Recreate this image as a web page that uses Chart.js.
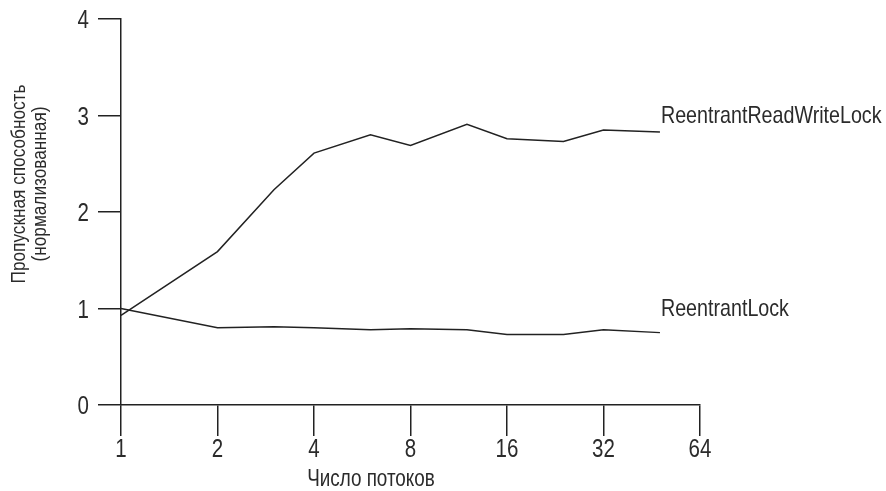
<!DOCTYPE html>
<html>
<head>
<meta charset="utf-8">
<script src="https://cdn.jsdelivr.net/npm/chart.js@4.4.1/dist/chart.umd.min.js"></script>
<style>
  html, body { margin: 0; padding: 0; background: #fff; }
  #wrap { width: 886px; height: 491px; }
</style>
</head>
<body>
<div id="wrap"><canvas id="chart" width="886" height="491"></canvas></div>
<script>
const threads = [1, 2, 3, 4, 6, 8, 12, 16, 24, 32, 48];
const rwLock = [0.93, 1.59, 2.23, 2.61, 2.80, 2.69, 2.91, 2.76, 2.73, 2.85, 2.83];
const plainLock = [1.00, 0.80, 0.81, 0.80, 0.78, 0.79, 0.78, 0.73, 0.73, 0.78, 0.75];
const xTicks = [1, 2, 4, 8, 16, 32, 64];
const yTicks = [0, 1, 2, 3, 4];
const seriesNames = ['ReentrantReadWriteLock', 'ReentrantLock'];
const labelLevels = [3, 1];
const xTitle = 'Число потоков';
const yTitle = ['Пропускная способность', '(нормализованная)'];

const FONT = "'Liberation Sans', Arial, sans-serif";
const INK = '#222';
const TEXT = '#2b2b2b';
const NARROW = 0.82; // the original uses a narrow sans face

function narrowText(ctx, text, x, y, align) {
    ctx.save();
    ctx.translate(x, y);
    ctx.scale(NARROW, 1);
    ctx.textAlign = align;
    ctx.fillText(text, 0, 0);
    ctx.restore();
}

// tick labels, series names and axis titles in a condensed face
const textPlugin = {
    id: 'texts',
    afterDraw(chart) {
        const ctx = chart.ctx;
        const xs = chart.scales.x, ys = chart.scales.y;
        ctx.save();
        ctx.fillStyle = TEXT;
        ctx.textBaseline = 'alphabetic';

        ctx.font = '25px ' + FONT;
        xTicks.forEach(v => narrowText(ctx, String(v), xs.getPixelForValue(v), 457, 'center'));
        yTicks.forEach(v => narrowText(ctx, String(v), 89, ys.getPixelForValue(v) + 9, 'right'));

        ctx.font = '24px ' + FONT;
        const lastX = xs.getPixelForValue(threads[threads.length - 1]) + 1;
        seriesNames.forEach((name, i) => {
            narrowText(ctx, name, lastX, ys.getPixelForValue(labelLevels[i]) + 7, 'left');
        });

        ctx.font = '23px ' + FONT;
        narrowText(ctx, xTitle, 371, 486, 'center');

        ctx.font = '21px ' + FONT;
        ctx.translate(0, 184);
        ctx.rotate(-Math.PI / 2);
        narrowText(ctx, yTitle[0], 0, 25, 'center');
        narrowText(ctx, yTitle[1], 0, 46, 'center');
        ctx.restore();
    }
};

new Chart(document.getElementById('chart'), {
    type: 'line',
    data: {
        datasets: [
            {
                label: seriesNames[0],
                data: threads.map((t, i) => ({ x: t, y: rwLock[i] })),
                borderColor: INK,
                borderWidth: 1.5,
                pointRadius: 0,
                tension: 0,
                fill: false,
                clip: false
            },
            {
                label: seriesNames[1],
                data: threads.map((t, i) => ({ x: t, y: plainLock[i] })),
                borderColor: INK,
                borderWidth: 1.5,
                pointRadius: 0,
                tension: 0,
                fill: false,
                clip: false
            }
        ]
    },
    options: {
        responsive: false,
        animation: false,
        events: [],
        layout: { padding: { top: 19, right: 186, left: 0, bottom: 0 } },
        plugins: {
            legend: { display: false },
            tooltip: { enabled: false }
        },
        scales: {
            x: {
                type: 'logarithmic',
                min: 1,
                max: 64,
                afterBuildTicks: (scale) => {
                    scale.ticks = xTicks.map(v => ({ value: v }));
                },
                afterFit: (scale) => { scale.height = 86; },
                grid: {
                    drawOnChartArea: false,
                    drawTicks: true,
                    tickLength: 31,
                    color: INK,
                    lineWidth: 1.5
                },
                border: { display: true, color: INK, width: 1.5 },
                ticks: { display: false }
            },
            y: {
                type: 'linear',
                min: 0,
                max: 4,
                afterBuildTicks: (scale) => {
                    scale.ticks = yTicks.map(v => ({ value: v }));
                },
                afterFit: (scale) => { scale.width = 121; },
                grid: {
                    drawOnChartArea: false,
                    drawTicks: true,
                    tickLength: 23,
                    color: INK,
                    lineWidth: 1.5
                },
                border: { display: true, color: INK, width: 1.5 },
                ticks: { display: false }
            }
        }
    },
    plugins: [textPlugin]
});
</script>
</body>
</html>
